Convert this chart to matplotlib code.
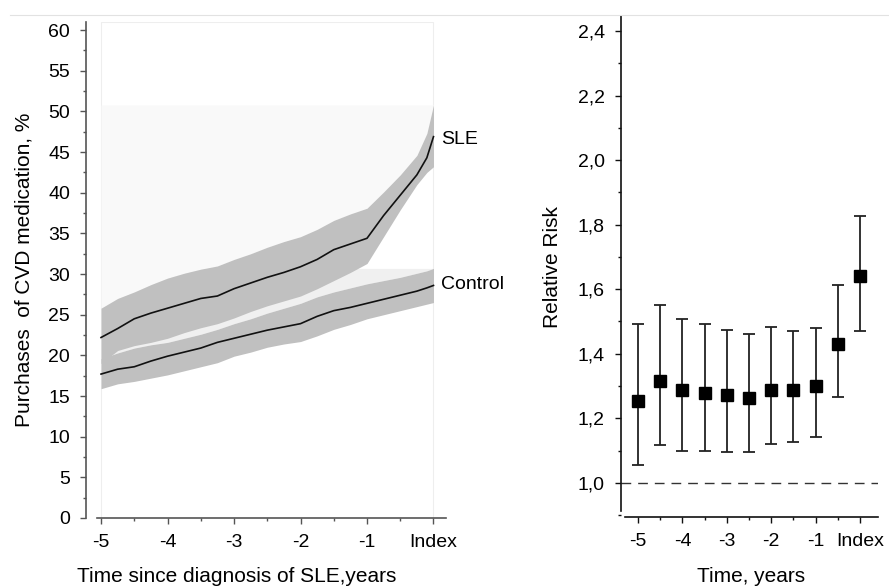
import matplotlib
matplotlib.use('Agg')
import matplotlib.pyplot as plt
from matplotlib.patches import Rectangle
from matplotlib.ticker import MultipleLocator, FixedLocator, FixedFormatter

plt.rcParams['font.family'] = 'sans-serif'
plt.rcParams['font.sans-serif'] = ['Liberation Sans', 'DejaVu Sans']

# ---- left panel: cumulative purchases, years before diagnosis ----
years = [-5.0, -4.75, -4.5, -4.25, -4.0, -3.75, -3.5, -3.25, -3.0, -2.75, -2.5,
         -2.25, -2.0, -1.75, -1.5, -1.25, -1.0, -0.75, -0.5, -0.25, -0.1, 0.0]

sle_mean = [22.2, 23.3, 24.5, 25.2, 25.8, 26.4, 27.0, 27.3, 28.2, 28.9, 29.6,
            30.2, 30.9, 31.8, 33.0, 33.7, 34.4, 37.2, 39.7, 42.2, 44.3, 46.9]
sle_upper = [25.8, 27.0, 27.8, 28.7, 29.5, 30.1, 30.6, 31.0, 31.8, 32.5, 33.3,
             34.0, 34.6, 35.5, 36.6, 37.4, 38.1, 40.1, 42.2, 44.6, 47.3, 50.8]
sle_lower = [19.0, 20.6, 21.2, 21.6, 22.1, 22.8, 23.4, 23.9, 24.6, 25.4, 26.1,
             26.7, 27.3, 28.2, 29.2, 30.2, 31.3, 34.6, 37.9, 41.0, 42.5, 43.2]

ctrl_mean = [17.7, 18.3, 18.6, 19.3, 19.9, 20.4, 20.9, 21.6, 22.1, 22.6, 23.1,
             23.5, 23.9, 24.8, 25.5, 25.9, 26.4, 26.9, 27.4, 27.9, 28.3, 28.6]
ctrl_upper = [19.6, 20.3, 20.9, 21.3, 21.6, 22.1, 22.6, 23.2, 23.9, 24.5, 25.2,
              25.8, 26.4, 27.2, 27.8, 28.3, 28.8, 29.2, 29.6, 30.1, 30.4, 30.7]
ctrl_lower = [15.9, 16.5, 16.8, 17.2, 17.6, 18.1, 18.6, 19.1, 19.9, 20.4, 21.0,
              21.4, 21.7, 22.4, 23.2, 23.8, 24.5, 25.0, 25.5, 26.0, 26.3, 26.5]

# ---- right panel: relative risk per half year ----
rr_time = [-5.0, -4.5, -4.0, -3.5, -3.0, -2.5, -2.0, -1.5, -1.0, -0.5, 0.0]
rr = [1.255, 1.315, 1.287, 1.277, 1.272, 1.263, 1.288, 1.287, 1.300, 1.429, 1.640]
rr_hi = [1.493, 1.551, 1.507, 1.491, 1.474, 1.461, 1.482, 1.472, 1.480, 1.613, 1.828]
rr_lo = [1.054, 1.117, 1.097, 1.097, 1.095, 1.094, 1.120, 1.125, 1.143, 1.267, 1.471]

x_ticks = [-5, -4, -3, -2, -1, 0]
x_labels = ['-5', '-4', '-3', '-2', '-1', 'Index']

band_col = '#c0c0c0'

fig = plt.figure(figsize=(8.89, 5.86), dpi=100)

# thin border line across the top of the image
fig.add_artist(plt.Line2D([10 / 889, 1.0], [1 - 14.5 / 586] * 2, color='#e2e2e2', lw=0.8))

ax1 = fig.add_axes([86 / 889, 68 / 586, 360 / 889, 496 / 586])
ax2 = fig.add_axes([620.7 / 889, 68.7 / 586, 257 / 889, 501.3 / 586])

# left panel
ax1.add_patch(Rectangle((-5, 0), 5, 61, fill=False, edgecolor='#eeeeee', lw=0.8, zorder=0))
ax1.fill_between(years, ctrl_upper, max(ctrl_upper), color='#f0f0f0', lw=0, zorder=1)
ax1.fill_between(years, sle_upper, max(sle_upper), color='#f9f9f9', lw=0, zorder=1)
ax1.fill_between(years, ctrl_lower, ctrl_upper, color=band_col, lw=0, zorder=2)
ax1.fill_between(years, sle_lower, sle_upper, color=band_col, lw=0, zorder=2)
ax1.plot(years, ctrl_mean, color='#111111', lw=1.2, zorder=3)
ax1.plot(years, sle_mean, color='#111111', lw=1.2, zorder=3)

ax1.text(0.113, 46.6, 'SLE', fontsize=14, va='center', ha='left')
ax1.text(0.113, 28.7, 'Control', fontsize=14, va='center', ha='left')

ax1.set_xlim(-5.226, 0.188)
ax1.set_ylim(0, 61)
ax1.yaxis.set_major_locator(MultipleLocator(5))
ax1.yaxis.set_minor_locator(MultipleLocator(2.5))
ax1.xaxis.set_major_locator(FixedLocator(x_ticks))
ax1.xaxis.set_major_formatter(FixedFormatter(x_labels))
ax1.xaxis.set_minor_locator(MultipleLocator(0.5))
ax1.spines['left'].set_bounds(0, 61)
ax1.spines['bottom'].set_bounds(-5.06, 0.188)
ax1.set_ylabel('Purchases  of CVD medication, %', fontsize=15)
ax1.set_xlabel('Time since diagnosis of SLE,years', fontsize=15)
ax1.yaxis.set_label_coords(-0.147, 0.5)
ax1.xaxis.set_label_coords(0.419, -0.099)

# right panel
ax2.axhline(1.0, color='#333333', lw=1.0, ls=(0, (7, 5)), zorder=1)
err = [[m - lo for m, lo in zip(rr, rr_lo)], [hi - m for m, hi in zip(rr, rr_hi)]]
ax2.errorbar(rr_time, rr, yerr=err, fmt='s', color='black', ecolor='#222222',
             markersize=8.5, elinewidth=1.3, capsize=4.3, capthick=1.3, zorder=3)

ax2.set_xlim(-5.39, 0.399)
ax2.set_ylim(0.893, 2.447)
ax2.yaxis.set_major_locator(MultipleLocator(0.2))
ax2.yaxis.set_minor_locator(MultipleLocator(0.1))
ax2.yaxis.set_major_formatter(plt.FuncFormatter(lambda v, p: f'{v:.1f}'.replace('.', ',')))
ax2.xaxis.set_major_locator(FixedLocator(x_ticks))
ax2.xaxis.set_major_formatter(FixedFormatter(x_labels))
ax2.xaxis.set_minor_locator(MultipleLocator(0.5))
ax2.spines['left'].set_bounds(0.912, 2.447)
ax2.spines['bottom'].set_bounds(-5.30, 0.399)
ax2.set_ylabel('Relative Risk', fontsize=15)
ax2.set_xlabel('Time, years', fontsize=15)
ax2.yaxis.set_label_coords(-0.2296, 0.5)
ax2.xaxis.set_label_coords(0.507, -0.099)

for ax, sc in [(ax1, '#555555'), (ax2, '#111111')]:
    for spine in ['top', 'right']:
        ax.spines[spine].set_visible(False)
    for spine in ['left', 'bottom']:
        ax.spines[spine].set_color(sc)
        ax.spines[spine].set_linewidth(1.2)
    ax.tick_params(which='major', length=4.5, width=1.0, color=sc, labelsize=14, pad=7)
    ax.tick_params(which='minor', length=2.5, width=1.0, color=sc)

fig.savefig('out.png', dpi=100)
